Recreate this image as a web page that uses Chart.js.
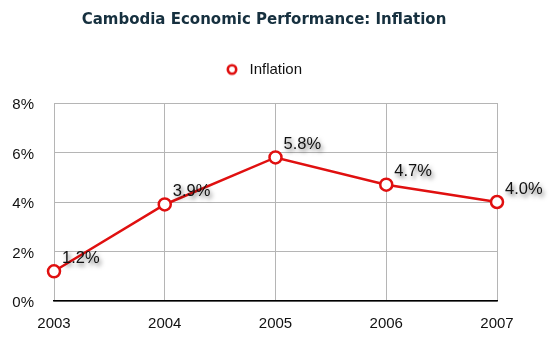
<!DOCTYPE html>
<html><head><meta charset="utf-8">
<script src="https://cdn.jsdelivr.net/npm/chart.js@4/dist/chart.umd.min.js"></script>
<style>html,body{margin:0;padding:0;background:#fff}#wrap{width:552px;height:342px}</style>
</head><body><div id="wrap"><canvas id="c" width="552" height="342"></canvas></div>
<script>
const years = ['2003','2004','2005','2006','2007'];
const inflation = [1.2, 3.9, 5.8, 4.7, 4.0];
const yTicks = [0, 2, 4, 6, 8];
const seriesName = 'Inflation';
const titleText = 'Cambodia Economic Performance: Inflation';

const RED = '#e01010';

// legend marker image: small open circle, placed toward the left of a 16px box
const legendMarker = document.createElement('canvas');
legendMarker.width = 16; legendMarker.height = 14;
(function(){
  const g = legendMarker.getContext('2d');
  g.beginPath();
  g.arc(6, 7, 4.2, 0, Math.PI * 2);
  g.fillStyle = '#fff'; g.fill();
  g.lineWidth = 2.6; g.strokeStyle = RED; g.stroke();
})();

const legendGap = {
  id: 'legendGap',
  afterInit(chart) {
    const lg = chart.legend;
    const orig = lg.fit;
    lg.fit = function() { orig.call(this); this.height += 16; };
  }
};

const labelPlugin = {
  id: 'valueLabels',
  afterDatasetsDraw(chart) {
    const ctx = chart.ctx;
    const meta = chart.getDatasetMeta(0);
    ctx.save();
    ctx.font = '16.5px "Liberation Sans", Arial, sans-serif';
    ctx.textAlign = 'left';
    ctx.textBaseline = 'middle';
    ctx.shadowColor = 'rgba(0,0,0,0.55)';
    ctx.shadowOffsetX = 2;
    ctx.shadowOffsetY = 3;
    ctx.shadowBlur = 4;
    ctx.fillStyle = '#111';
    meta.data.forEach((pt, i) => {
      ctx.fillText(inflation[i].toFixed(1) + '%', pt.x + 8, pt.y - 13);
    });
    ctx.restore();
  }
};

new Chart(document.getElementById('c'), {
  type: 'line',
  data: {
    labels: years,
    datasets: [{
      label: seriesName,
      data: inflation,
      borderColor: RED,
      borderWidth: 2.5,
      backgroundColor: '#ffffff',
      pointRadius: 6,
      pointBorderWidth: 2.5,
      pointBackgroundColor: '#ffffff',
      pointBorderColor: RED,
      tension: 0
    }]
  },
  options: {
    responsive: false,
    animation: false,
    layout: { padding: { left: 2, right: 26, top: 6, bottom: -5 } },
    plugins: {
      title: {
        display: true,
        text: titleText,
        color: '#16303f',
        font: { family: '"DejaVu Sans", Verdana, sans-serif', size: 15, weight: 'bold' },
        padding: { top: 5, bottom: 23 }
      },
      legend: {
        display: true,
        labels: {
          usePointStyle: true,
          pointStyle: legendMarker,
          pointStyleWidth: 16,
          boxHeight: 10,
          color: '#111',
          font: { family: '"Liberation Sans", Arial, sans-serif', size: 15 },
          padding: 10
        }
      },
      tooltip: { enabled: false }
    },
    scales: {
      x: {
        offset: false,
        grid: { color: '#b5b5b5', lineWidth: 1, drawTicks: false },
        border: { color: '#000', width: 1.5 },
        ticks: { color: '#111', font: { family: '"Liberation Sans", Arial, sans-serif', size: 15 }, padding: 14, maxRotation: 0 }
      },
      y: {
        min: 0, max: 8,
        afterBuildTicks(axis) { axis.ticks = yTicks.map(v => ({ value: v })); },
        afterFit(axis) { axis.width = 52; },
        grid: { color: '#b5b5b5', lineWidth: 1, drawTicks: false },
        border: { display: false },
        ticks: { color: '#111', font: { family: '"Liberation Sans", Arial, sans-serif', size: 15 }, padding: 20, labelOffset: 2, callback: v => v + '%' }
      },
      yRight: {
        type: 'linear',
        position: 'right',
        display: true,
        min: 0, max: 8,
        afterFit(axis) { axis.width = 29; },
        grid: { display: false, drawTicks: false },
        border: { display: false },
        ticks: { display: false }
      }
    }
  },
  plugins: [legendGap, labelPlugin]
});
</script></body></html>
